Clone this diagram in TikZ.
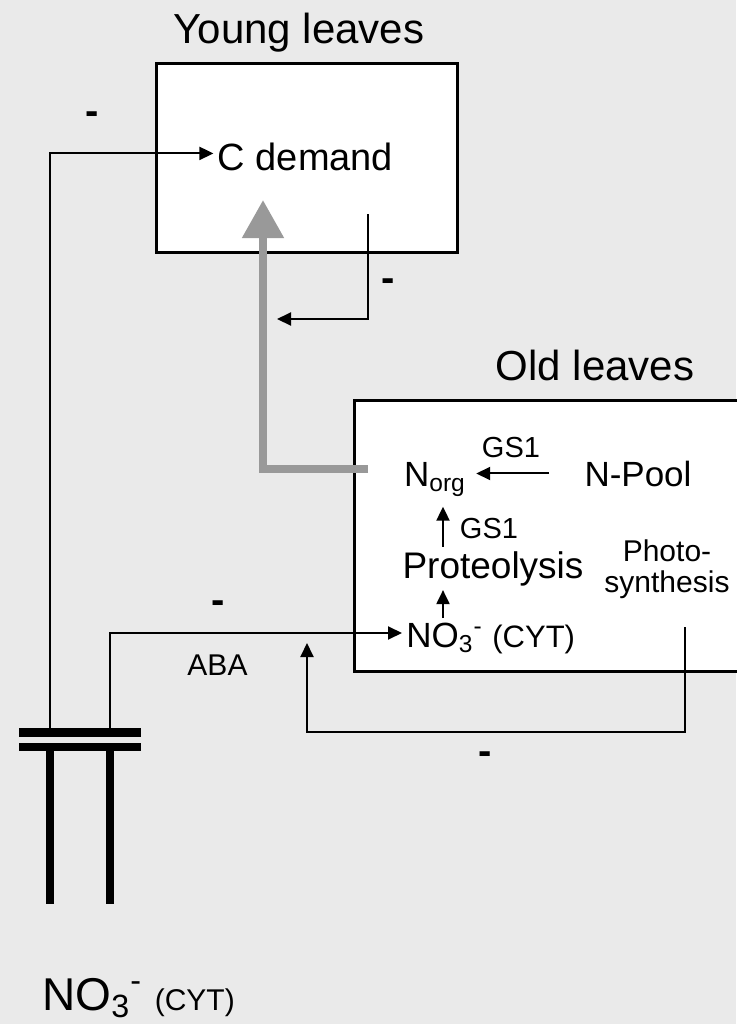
\documentclass[tikz,border=0pt]{standalone}
\usepackage{fontspec}
\setmainfont{Liberation Sans}
\usetikzlibrary{arrows.meta}
\definecolor{paper}{HTML}{EAEAEA}
\definecolor{flow}{HTML}{999999}

\begin{document}
\begin{tikzpicture}[x=0.5pt,y=-0.5pt,>={Triangle[length=7pt,width=6.5pt]},
  txt/.style={anchor=base,inner sep=2pt,font=\fontsize{#1}{#1}\selectfont},
  sign/.style={inner sep=0pt,font=\fontsize{20}{20}\selectfont\bfseries},
  link/.style={->,line width=1pt},
  leaf/.style={draw,line width=1.5pt,fill=white,inner sep=0pt}]
  \fill[paper] (0,0) rectangle (736,1024);
  \useasboundingbox (0,0) rectangle (736,1024);

  % compartments
  \node[leaf,minimum width=150.75pt,minimum height=94.75pt] (young) at (306.75,157.75) {};
  \fill[white] (354,400) rectangle (736,671);
  \draw[line width=1.5pt] (740,400) -| (354,671) -- (740,671);
  \node[txt=21] (ytitle) at (299,43) {Young leaves};
  \node[txt=21] (otitle) at (595,380) {Old leaves};

  % young leaves
  \node[txt=19] (cdem) at (305.5,170) {C demand};

  % old leaves
  \node[txt=17.5] (norg) at (435,486) {N\textsubscript{org}};
  \node[txt=17.5] (npool) at (638,486) {N-Pool};
  \node[txt=14.5] (gsa) at (511,457) {GS1};
  \node[txt=14.5] (gsb) at (489,538) {GS1};
  \node[txt=18.5] (prot) at (493,578) {Proteolysis};
  \node[txt=17.5,anchor=base west] (no3) at (402,647)
    {NO\textsubscript{3}\textsuperscript{-} {\fontsize{15.5}{15.5}\selectfont(CYT)}};
  \node[inner sep=2pt,align=center,font=\fontsize{15}{15.5}\selectfont] (photo) at (667,569)
    {Photo-\\synthesis};

  % stem
  \fill (19,728) rectangle (141,736.5);
  \fill (19,743) rectangle (141,751);
  \draw[line width=4pt] (50,751) -- (50,904);
  \draw[line width=4pt] (110,751) -- (110,904);
  \coordinate (legL) at (50,728);
  \coordinate (legR) at (110,728);
  \node[txt=15] (aba) at (217.5,675) {ABA};
  \node[txt=23,anchor=base west] (root) at (38,1010)
    {NO\textsubscript{3}\textsuperscript{-} {\fontsize{15}{15}\selectfont(CYT)}};

  % N export to young leaves
  \coordinate (gstart) at (368,469);
  \coordinate (ctip) at (263,200);
  \draw[line width=4pt,flow,-{Triangle[length=19pt,width=20pt]}] (gstart) -| (ctip);

  % signals
  \coordinate (colx) at (443,0);
  \draw[link,shorten <=15.5pt,shorten >=3pt] (npool.west) -- (norg.east |- npool.west);
  \draw[link,shorten >=3pt] (prot.north -| colx) -- (norg.south -| colx);
  \draw[link] (no3.north -| colx) -- (prot.south -| colx);
  \draw[link] (legL) |- ([yshift=1.5pt]cdem.west);
  \draw[link] (legR) |- ([yshift=2.5pt]no3.west);

  \coordinate (ydrop) at (368,214);
  \coordinate (yinh) at (277,319);
  \draw[link] (ydrop) |- (yinh);

  \coordinate (pfb) at (685,627);
  \coordinate (fbtip) at (307,643);
  \draw[link] (pfb) -- ++(0,105) -| (fbtip);

  \node[sign] (negcd) at (92,118) {-};
  \node[sign] (negtr) at (388,285) {-};
  \node[sign] (negaba) at (218,607) {-};
  \node[sign] (negps) at (485,758) {-};
\end{tikzpicture}
\end{document}
